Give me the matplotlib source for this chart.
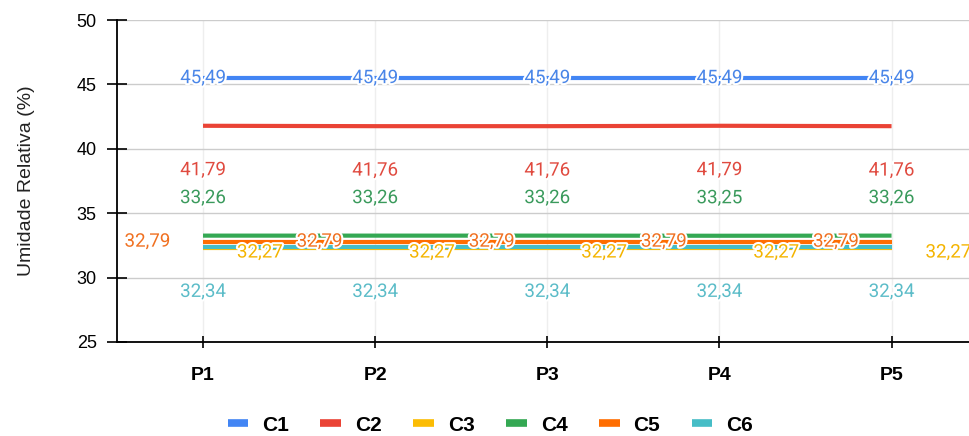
import matplotlib.pyplot as plt
import matplotlib.patheffects as pe

plt.rcParams['font.family'] = ['Liberation Sans', 'DejaVu Sans']

pontos = ['P1', 'P2', 'P3', 'P4', 'P5']
series = ['C1', 'C2', 'C3', 'C4', 'C5', 'C6']
c1 = [45.49, 45.49, 45.49, 45.49, 45.49]
c2 = [41.79, 41.76, 41.76, 41.79, 41.76]
c3 = [32.27, 32.27, 32.27, 32.27, 32.27]
c4 = [33.26, 33.26, 33.26, 33.25, 33.26]
c5 = [32.79, 32.79, 32.79, 32.79, 32.79]
c6 = [32.34, 32.34, 32.34, 32.34, 32.34]

cores = ['#4285F4', '#EA4335', '#FBBC04', '#34A853', '#FF6D01', '#46BDC6']
cores_txt = ['#4a86e8', '#e04a3f', '#f4b400', '#3a9a5c', '#f07020', '#5bbcc8']
# deslocamento dos rotulos (pontos)
offs = [(0, 0), (0, -32), (41, -3), (0, 27), (-40, 0), (0, -32)]

fig = plt.figure(figsize=(9.69, 4.36), dpi=100)
ax = fig.add_axes([0.1207, 0.2156, 0.8793, 0.7384])

x = list(range(len(pontos)))
dados = [c1, c2, c3, c4, c5, c6]
for i, (nome, vals) in enumerate(zip(series, dados)):
    ax.plot(x, vals, color=cores[i], lw=3, label=nome, zorder=3 + i * 0.01,
            solid_capstyle='butt')
    for xi, v in zip(x, vals):
        ax.annotate(f"{v:.2f}".replace('.', ','), (xi, v), xytext=offs[i],
                    textcoords='offset points', ha='center', va='center',
                    fontsize=13.5, color=cores_txt[i], zorder=10, family='Roboto',
                    path_effects=[pe.withStroke(linewidth=3, foreground='white')])

ax.set_ylim(25, 50)
ax.set_yticks([25, 30, 35, 40, 45, 50])
ax.set_xlim(-0.5, 4.45)
ax.set_xticks(x)
ax.set_xticklabels(pontos, fontweight='bold', fontsize=14)
ax.tick_params(axis='y', direction='inout', length=14, width=1.2, labelsize=13, pad=7.5)
ax.tick_params(axis='x', direction='inout', length=8, width=1.2, pad=14)
ax.grid(axis='y', color='#cccccc', lw=1)
ax.grid(axis='x', color='#eeeeee', lw=1)
ax.set_axisbelow(True)
for s in ['top', 'right']:
    ax.spines[s].set_visible(False)
ax.spines['left'].set_linewidth(1.3)
ax.spines['bottom'].set_linewidth(1.3)
ax.set_ylabel('Umidade Relativa (%)', fontsize=14, labelpad=30, color='#222222')

leg = fig.legend(loc='center', bbox_to_anchor=(0.506, 0.025), ncol=6, frameon=False,
                 handlelength=1.0, handletextpad=0.67, columnspacing=1.5,
                 prop={'weight': 'bold', 'size': 15})
for h in leg.get_lines():
    h.set_linewidth(5.5)

fig.savefig('out.png', dpi=100)
